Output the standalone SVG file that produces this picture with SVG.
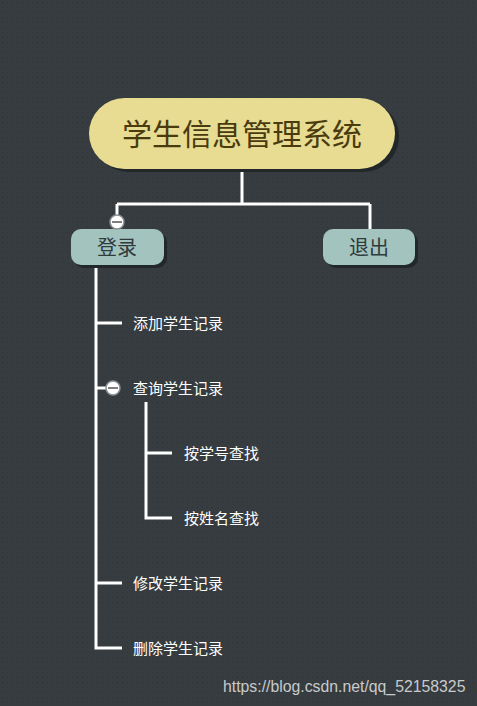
<svg xmlns="http://www.w3.org/2000/svg" width="477" height="706" viewBox="0 0 477 706">
<style>
.ln{fill:none;stroke:#ffffff;stroke-width:3}
.cn{font-family:"Noto Sans CJK SC","Noto Sans",sans-serif}
.leaf{font-size:15px;fill:#ffffff}
.main{font-size:20px;fill:#2f3b3c;text-anchor:middle}
.shadow{fill:#22282a}
.tog{fill:#ffffff;stroke:#8a8f92;stroke-width:1.5}
</style>
<defs>
<pattern id="dots" width="5" height="5" patternUnits="userSpaceOnUse">
<rect width="5" height="5" fill="#363c3f"/>
<rect x="2" y="2" width="1" height="1" fill="#2e3335"/>
</pattern>
</defs>
<rect width="477" height="706" fill="url(#dots)"/>
<g id="connectors">
<path class="ln" d="M242,170 V204 M117,204 H370 M117,204 V222 M370,204 V229"/>
<path class="ln" d="M96,265 V648 H122 M96,323 H122 M96,388 H107 M96,583 H122"/>
<path class="ln" d="M146,402 V518 H172 M146,453 H172"/>
</g>
<g id="root">
<rect class="shadow" x="93" y="101" width="306" height="71" rx="35.5"/>
<rect x="89" y="98" width="306" height="71" rx="35.5" fill="#e7dc92"/>
<text class="cn" x="242" y="145" font-size="30" fill="#4a3b0e" text-anchor="middle">学生信息管理系统</text>
</g>
<g id="login">
<rect class="shadow" x="74" y="232" width="93" height="36" rx="10"/>
<rect x="71" y="229" width="93" height="36" rx="10" fill="#a3c3bf"/>
<text class="cn main" x="117" y="255">登录</text>
<circle class="tog" cx="117" cy="222" r="7"/>
<path d="M112,222 H122" stroke="#555" stroke-width="1.5"/>
</g>
<g id="exit">
<rect class="shadow" x="326" y="232" width="92" height="36" rx="10"/>
<rect x="323" y="229" width="92" height="36" rx="10" fill="#a3c3bf"/>
<text class="cn main" x="369" y="255">退出</text>
</g>
<g id="add"><text class="cn leaf" x="133" y="329">添加学生记录</text></g>
<g id="query">
<circle class="tog" cx="113" cy="388" r="7"/>
<path d="M108,388 H118" stroke="#555" stroke-width="1.5"/>
<text class="cn leaf" x="133" y="394">查询学生记录</text>
</g>
<g id="byid"><text class="cn leaf" x="184" y="459">按学号查找</text></g>
<g id="byname"><text class="cn leaf" x="184" y="524">按姓名查找</text></g>
<g id="modify"><text class="cn leaf" x="133" y="589">修改学生记录</text></g>
<g id="delete"><text class="cn leaf" x="133" y="654">删除学生记录</text></g>
<text x="223" y="692" font-family="Liberation Sans,Arial,sans-serif" font-size="15.8" fill="#c8cacb">https://blog.csdn.net/qq_52158325</text>
</svg>
